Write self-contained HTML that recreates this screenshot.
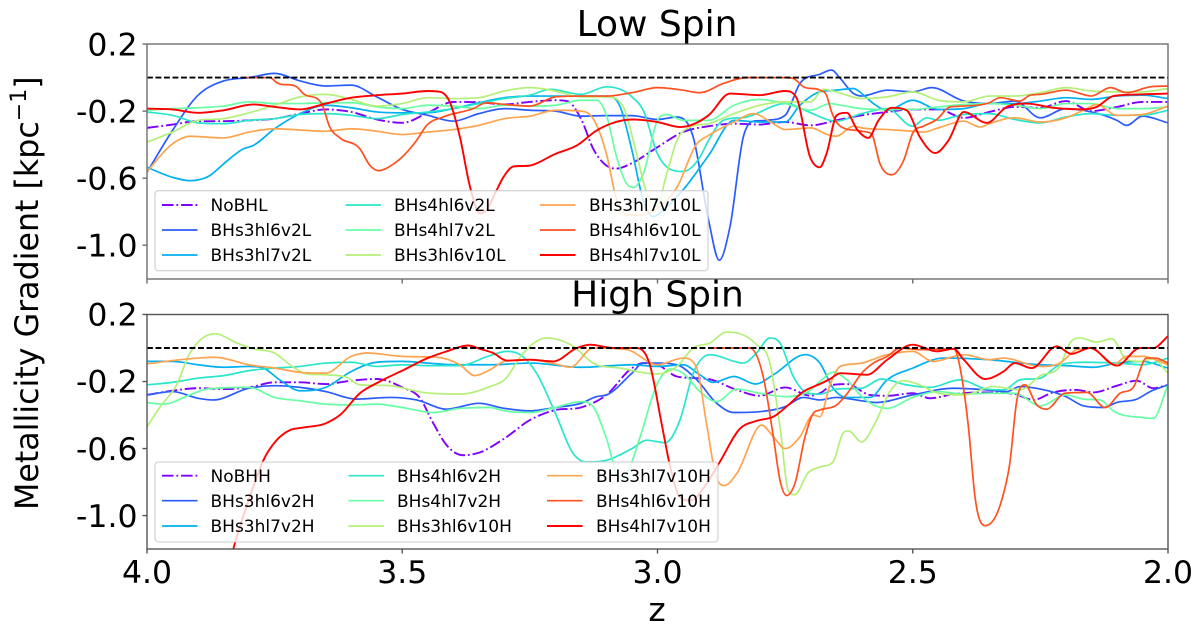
<!DOCTYPE html>
<html lang="en">
<head>
<meta charset="utf-8">
<title>Metallicity Gradient vs Redshift</title>
<style>
html,body{margin:0;padding:0;background:#fff;}
svg{display:block;}
text{font-family:"DejaVu Sans","Liberation Sans",sans-serif;fill:#000;}
</style>
</head>
<body>
<svg id="figure" xmlns="http://www.w3.org/2000/svg" width="1200" height="638" viewBox="0 0 1200 638">
  <defs>
    <clipPath id="clip-low"><rect x="147" y="44" width="1021" height="235"/></clipPath>
    <clipPath id="clip-high"><rect x="147" y="314.5" width="1021" height="234.5"/></clipPath>
  </defs>
  <rect x="0" y="0" width="1200" height="638" fill="#fff"/>
  <g id="panel-low"></g>
  <g id="panel-high"></g>
  <text x="657" y="36" font-size="36" text-anchor="middle">Low Spin</text>
  <text x="657.5" y="306.5" font-size="36" text-anchor="middle">High Spin</text>
  <text x="657" y="621" font-size="33" text-anchor="middle">z</text>
  <text transform="translate(38,510) rotate(-90)" font-size="31.7" x="0" y="0">Metallicity Gradient [kpc<tspan dy="-12" font-size="22">−1</tspan><tspan dy="12">]</tspan></text>
</svg>
<script>
// ---------- axis ticks ----------
const xTicks = [4.0, 3.5, 3.0, 2.5, 2.0];
const xTickLabels = ["4.0", "3.5", "3.0", "2.5", "2.0"];
const yTicks = [0.2, -0.2, -0.6, -1.0];
const yTickLabels = ["0.2", "-0.2", "-0.6", "-1.0"];
const zeroLevel = [0];

// ---------- Low Spin series ----------
const lowNames = ["NoBHL", "BHs3hl6v2L", "BHs3hl7v2L", "BHs4hl6v2L", "BHs4hl7v2L", "BHs3hl6v10L", "BHs3hl7v10L", "BHs4hl6v10L", "BHs4hl7v10L"];

const zLowNoBH = [4.00,3.95,3.90,3.85,3.80,3.75,3.70,3.65,3.60,3.55,3.50,3.45,3.40,3.35,3.30,3.25,3.20,3.177,3.15,3.125,3.10,3.08,3.05,3.00,2.95,2.90,2.85,2.80,2.75,2.70,2.65,2.60,2.55,2.50,2.45,2.40,2.35,2.30,2.25,2.20,2.15,2.10,2.05,2.00];
const vLowNoBH = [-0.30,-0.28,-0.26,-0.26,-0.255,-0.245,-0.215,-0.19,-0.205,-0.25,-0.27,-0.21,-0.145,-0.147,-0.16,-0.145,-0.135,-0.14,-0.245,-0.43,-0.525,-0.543,-0.51,-0.415,-0.325,-0.29,-0.275,-0.28,-0.265,-0.285,-0.255,-0.225,-0.205,-0.19,-0.19,-0.24,-0.205,-0.175,-0.18,-0.14,-0.20,-0.175,-0.145,-0.145];

const zLow3l6v2 = [4.00,3.95,3.90,3.85,3.80,3.75,3.70,3.65,3.60,3.55,3.50,3.45,3.40,3.35,3.30,3.25,3.20,3.15,3.10,3.05,3.00,2.962,2.93,2.90,2.879,2.858,2.832,2.812,2.786,2.75,2.721,2.682,2.659,2.642,2.616,2.60,2.55,2.50,2.463,2.40,2.35,2.30,2.25,2.20,2.15,2.10,2.081,2.05,2.00];
const vLow3l6v2 = [-0.565,-0.315,-0.105,-0.02,0,0.025,-0.02,-0.05,-0.045,-0.115,-0.19,-0.225,-0.26,-0.215,-0.185,-0.195,-0.2,-0.23,-0.227,-0.227,-0.25,-0.235,-0.355,-0.85,-1.09,-0.89,-0.355,-0.26,-0.255,-0.225,-0.035,0.02,0.045,-0.005,-0.095,-0.11,-0.075,-0.085,-0.06,-0.14,-0.155,-0.14,-0.24,-0.185,-0.205,-0.255,-0.285,-0.23,-0.27];

const zLow3l7v2 = [4.00,3.95,3.916,3.877,3.85,3.811,3.792,3.75,3.70,3.65,3.60,3.55,3.50,3.45,3.40,3.35,3.30,3.25,3.20,3.15,3.10,3.073,3.05,3.028,3.008,2.989,2.95,2.90,2.85,2.80,2.75,2.721,2.682,2.65,2.616,2.60,2.577,2.55,2.50,2.45,2.40,2.35,2.30,2.25,2.20,2.15,2.10,2.05,2.00];
const vLow3l7v2 = [-0.535,-0.595,-0.615,-0.585,-0.515,-0.425,-0.405,-0.305,-0.215,-0.165,-0.18,-0.205,-0.21,-0.21,-0.185,-0.15,-0.12,-0.11,-0.11,-0.11,-0.11,-0.175,-0.435,-0.73,-0.83,-0.79,-0.67,-0.465,-0.255,-0.265,-0.265,-0.165,-0.085,-0.075,-0.065,-0.095,-0.155,-0.195,-0.135,-0.19,-0.185,-0.155,-0.155,-0.14,-0.12,-0.13,-0.11,-0.105,-0.125];

const zLow4l6v2 = [4.00,3.95,3.90,3.85,3.80,3.75,3.70,3.65,3.60,3.55,3.50,3.45,3.40,3.35,3.30,3.25,3.21,3.15,3.10,3.05,3.028,3.00,2.95,2.917,2.90,2.871,2.825,2.75,2.70,2.662,2.65,2.60,2.55,2.50,2.473,2.45,2.40,2.35,2.30,2.25,2.20,2.15,2.10,2.05,2.00];
const vLow4l6v2 = [-0.205,-0.225,-0.27,-0.275,-0.255,-0.245,-0.22,-0.215,-0.225,-0.245,-0.22,-0.205,-0.185,-0.155,-0.125,-0.105,-0.07,-0.10,-0.055,-0.115,-0.195,-0.455,-0.56,-0.475,-0.375,-0.255,-0.235,-0.155,-0.21,-0.255,-0.26,-0.215,-0.185,-0.29,-0.24,-0.255,-0.22,-0.215,-0.25,-0.27,-0.235,-0.215,-0.225,-0.225,-0.195];

const zLow4l7v2 = [4.00,3.95,3.90,3.85,3.80,3.75,3.70,3.65,3.60,3.55,3.50,3.45,3.40,3.35,3.30,3.25,3.20,3.15,3.119,3.10,3.08,3.06,3.047,3.028,3.00,2.982,2.95,2.90,2.85,2.80,2.75,2.70,2.662,2.65,2.60,2.55,2.50,2.45,2.40,2.35,2.30,2.25,2.20,2.15,2.10,2.05,2.00];
const vLow4l7v2 = [-0.195,-0.185,-0.18,-0.17,-0.145,-0.155,-0.155,-0.15,-0.15,-0.175,-0.185,-0.165,-0.17,-0.185,-0.165,-0.17,-0.165,-0.135,-0.135,-0.225,-0.475,-0.635,-0.655,-0.575,-0.255,-0.22,-0.255,-0.255,-0.165,-0.13,-0.155,-0.195,-0.155,-0.16,-0.185,-0.19,-0.19,-0.175,-0.16,-0.155,-0.165,-0.185,-0.155,-0.155,-0.185,-0.185,-0.175];

const zLow3l6v10 = [4.00,3.95,3.90,3.85,3.80,3.75,3.70,3.65,3.60,3.55,3.50,3.45,3.40,3.35,3.30,3.25,3.20,3.15,3.10,3.067,3.041,3.021,3.002,2.982,2.962,2.936,2.90,2.85,2.80,2.75,2.70,2.675,2.65,2.60,2.55,2.50,2.45,2.40,2.35,2.30,2.25,2.20,2.15,2.10,2.05,2.00];
const vLow3l6v10 = [-0.385,-0.325,-0.255,-0.245,-0.21,-0.165,-0.115,-0.10,-0.13,-0.17,-0.155,-0.12,-0.125,-0.12,-0.08,-0.06,-0.08,-0.115,-0.115,-0.175,-0.455,-0.69,-0.77,-0.575,-0.375,-0.295,-0.275,-0.215,-0.165,-0.145,-0.145,-0.07,-0.085,-0.125,-0.115,-0.085,-0.135,-0.145,-0.11,-0.11,-0.09,-0.06,-0.08,-0.085,-0.085,-0.065];

const zLow3l7v10 = [4.00,3.95,3.916,3.85,3.80,3.75,3.65,3.60,3.55,3.50,3.45,3.40,3.35,3.30,3.25,3.20,3.15,3.126,3.10,3.08,3.06,3.041,3.00,2.962,2.923,2.90,2.85,2.812,2.773,2.75,2.70,2.662,2.65,2.616,2.60,2.55,2.50,2.479,2.45,2.40,2.368,2.35,2.30,2.25,2.20,2.159,2.14,2.10,2.05,2.00];
const vLow3l7v10 = [-0.56,-0.395,-0.35,-0.36,-0.325,-0.305,-0.32,-0.305,-0.32,-0.34,-0.325,-0.31,-0.285,-0.245,-0.23,-0.195,-0.20,-0.245,-0.455,-0.73,-0.82,-0.82,-0.78,-0.655,-0.395,-0.345,-0.265,-0.215,-0.275,-0.31,-0.30,-0.345,-0.35,-0.29,-0.30,-0.31,-0.32,-0.325,-0.30,-0.26,-0.295,-0.275,-0.24,-0.265,-0.24,-0.185,-0.16,-0.225,-0.22,-0.17];

const zLow4l6v10 = [3.805,3.759,3.746,3.707,3.694,3.658,3.642,3.622,3.583,3.563,3.547,3.517,3.472,3.452,3.42,3.361,3.335,3.30,3.25,3.20,3.15,3.10,3.05,3.00,2.95,2.917,2.871,2.825,2.75,2.734,2.714,2.682,2.669,2.659,2.642,2.60,2.581,2.564,2.541,2.518,2.499,2.479,2.453,2.427,2.40,2.35,2.329,2.29,2.27,2.25,2.20,2.15,2.113,2.081,2.035,2.00];
const vLow4l6v10 = [0,0,-0.03,-0.055,-0.095,-0.155,-0.295,-0.36,-0.425,-0.525,-0.555,-0.515,-0.375,-0.285,-0.235,-0.185,-0.15,-0.16,-0.17,-0.115,-0.11,-0.11,-0.09,-0.06,-0.075,-0.09,-0.035,0,0,-0.005,-0.055,-0.075,-0.105,-0.205,-0.29,-0.32,-0.335,-0.515,-0.58,-0.495,-0.325,-0.29,-0.25,-0.175,-0.17,-0.15,-0.12,-0.14,-0.105,-0.10,-0.075,-0.11,-0.06,-0.09,-0.055,-0.05];

const zLow4l7v10 = [4.00,3.95,3.90,3.85,3.792,3.75,3.70,3.65,3.60,3.55,3.50,3.45,3.426,3.407,3.387,3.367,3.348,3.335,3.318,3.302,3.282,3.25,3.20,3.158,3.119,3.087,3.05,3.00,2.956,2.90,2.858,2.80,2.75,2.727,2.701,2.682,2.669,2.649,2.629,2.61,2.587,2.567,2.541,2.512,2.486,2.456,2.43,2.40,2.355,2.316,2.277,2.225,2.166,2.14,2.107,2.05,2.00];
const vLow4l7v10 = [-0.185,-0.19,-0.21,-0.195,-0.16,-0.175,-0.19,-0.155,-0.12,-0.105,-0.095,-0.08,-0.085,-0.145,-0.355,-0.655,-0.81,-0.79,-0.69,-0.595,-0.53,-0.525,-0.455,-0.405,-0.315,-0.27,-0.25,-0.265,-0.295,-0.225,-0.095,-0.105,-0.08,-0.125,-0.475,-0.535,-0.455,-0.225,-0.21,-0.305,-0.36,-0.255,-0.18,-0.195,-0.355,-0.45,-0.375,-0.205,-0.27,-0.175,-0.155,-0.18,-0.19,-0.175,-0.11,-0.10,-0.095];

// ---------- High Spin series ----------
const highNames = ["NoBHH", "BHs3hl6v2H", "BHs3hl7v2H", "BHs4hl6v2H", "BHs4hl7v2H", "BHs3hl6v10H", "BHs3hl7v10H", "BHs4hl6v10H", "BHs4hl7v10H"];

const zHighNoBH = [4.00,3.95,3.90,3.85,3.80,3.75,3.70,3.65,3.60,3.55,3.50,3.465,3.439,3.413,3.38,3.35,3.30,3.25,3.20,3.15,3.10,3.05,3.028,3.00,2.962,2.923,2.90,2.845,2.80,2.75,2.70,2.682,2.656,2.629,2.584,2.55,2.50,2.466,2.42,2.355,2.30,2.264,2.225,2.179,2.146,2.10,2.061,2.029,2.00];
const vHighNoBH = [-0.28,-0.255,-0.24,-0.245,-0.235,-0.205,-0.205,-0.215,-0.195,-0.185,-0.235,-0.30,-0.45,-0.58,-0.64,-0.625,-0.54,-0.43,-0.37,-0.355,-0.28,-0.12,-0.09,-0.10,-0.17,-0.18,-0.185,-0.25,-0.285,-0.235,-0.285,-0.27,-0.22,-0.215,-0.28,-0.285,-0.27,-0.30,-0.275,-0.265,-0.275,-0.31,-0.265,-0.25,-0.265,-0.225,-0.195,-0.24,-0.22];

const zHigh3l6v2 = [4.00,3.95,3.90,3.87,3.80,3.75,3.70,3.65,3.59,3.524,3.472,3.413,3.35,3.30,3.25,3.20,3.15,3.119,3.10,3.05,3.028,3.00,2.962,2.923,2.884,2.85,2.80,2.75,2.714,2.682,2.65,2.60,2.571,2.50,2.42,2.355,2.316,2.29,2.25,2.20,2.166,2.127,2.10,2.061,2.035,2.00];
const vHigh3l6v2 = [-0.28,-0.26,-0.30,-0.31,-0.24,-0.225,-0.235,-0.26,-0.305,-0.295,-0.31,-0.365,-0.33,-0.36,-0.375,-0.355,-0.33,-0.29,-0.28,-0.15,-0.09,-0.09,-0.10,-0.19,-0.33,-0.385,-0.38,-0.35,-0.295,-0.31,-0.295,-0.315,-0.325,-0.28,-0.24,-0.25,-0.26,-0.23,-0.245,-0.29,-0.345,-0.355,-0.325,-0.305,-0.26,-0.22];

const zHigh3l7v2 = [4.00,3.95,3.90,3.85,3.80,3.772,3.74,3.70,3.65,3.60,3.55,3.50,3.45,3.40,3.328,3.25,3.15,3.05,3.00,2.95,2.917,2.891,2.85,2.808,2.773,2.711,2.682,2.656,2.629,2.584,2.55,2.50,2.44,2.35,2.25,2.20,2.146,2.10,2.05,2.00];
const vHigh3l7v2 = [-0.08,-0.08,-0.10,-0.115,-0.11,-0.12,-0.19,-0.255,-0.235,-0.14,-0.085,-0.08,-0.09,-0.10,-0.10,-0.09,-0.115,-0.10,-0.11,-0.10,-0.16,-0.205,-0.17,-0.215,-0.16,-0.04,-0.09,-0.24,-0.295,-0.295,-0.19,-0.12,-0.06,-0.07,-0.10,-0.105,-0.115,-0.09,-0.08,-0.12];

const zHigh4l6v2 = [4.00,3.95,3.90,3.85,3.80,3.75,3.70,3.65,3.60,3.55,3.50,3.45,3.387,3.328,3.295,3.269,3.237,3.20,3.165,3.139,3.10,3.05,3.021,2.985,2.956,2.93,2.897,2.832,2.806,2.78,2.76,2.734,2.705,2.682,2.649,2.60,2.561,2.512,2.466,2.408,2.355,2.322,2.29,2.25,2.212,2.159,2.10,2.05,2.00];
const vHigh4l6v2 = [-0.22,-0.205,-0.18,-0.165,-0.135,-0.12,-0.11,-0.09,-0.085,-0.11,-0.10,-0.105,-0.105,-0.045,-0.02,-0.04,-0.15,-0.39,-0.63,-0.68,-0.67,-0.60,-0.55,-0.565,-0.43,-0.15,-0.04,-0.09,-0.03,0.06,0.03,-0.17,-0.27,-0.275,-0.245,-0.24,-0.185,-0.22,-0.235,-0.19,-0.245,-0.25,-0.19,-0.18,-0.10,-0.085,-0.09,-0.10,-0.06];

const zHigh4l7v2 = [4.00,3.968,3.916,3.883,3.80,3.75,3.70,3.65,3.60,3.55,3.50,3.439,3.387,3.328,3.30,3.25,3.20,3.15,3.126,3.10,3.073,3.057,3.034,3.00,2.975,2.95,2.917,2.884,2.845,2.80,2.75,2.70,2.682,2.656,2.629,2.60,2.55,2.50,2.45,2.40,2.35,2.30,2.25,2.20,2.166,2.133,2.107,2.05,2.029,2.00];
const vHigh4l7v2 = [-0.325,-0.335,-0.28,-0.245,-0.235,-0.295,-0.315,-0.335,-0.34,-0.335,-0.355,-0.385,-0.36,-0.355,-0.375,-0.385,-0.355,-0.32,-0.35,-0.54,-0.79,-0.73,-0.53,-0.21,-0.125,-0.15,-0.26,-0.32,-0.245,-0.27,-0.29,-0.25,-0.20,-0.145,-0.19,-0.29,-0.36,-0.295,-0.26,-0.275,-0.27,-0.27,-0.345,-0.28,-0.305,-0.31,-0.375,-0.415,-0.42,-0.22];

const zHigh3l6v10 = [4.00,3.974,3.942,3.916,3.90,3.867,3.824,3.792,3.75,3.72,3.687,3.65,3.609,3.583,3.524,3.459,3.387,3.328,3.30,3.263,3.217,3.165,3.126,3.073,3.002,2.962,2.93,2.897,2.865,2.806,2.78,2.76,2.744,2.731,2.705,2.682,2.656,2.636,2.626,2.60,2.574,2.545,2.519,2.486,2.45,2.40,2.342,2.29,2.25,2.212,2.192,2.172,2.14,2.11,2.081,2.055,2.029,2.00];
const vHigh3l6v10 = [-0.47,-0.35,-0.22,-0.03,0.035,0.085,0.03,-0.005,-0.03,-0.10,-0.155,-0.16,-0.175,-0.22,-0.225,-0.265,-0.275,-0.23,-0.19,-0.03,0.06,0.01,-0.09,-0.12,-0.155,-0.11,0,0.03,0.095,0.02,-0.09,-0.47,-0.85,-0.875,-0.745,-0.71,-0.68,-0.505,-0.495,-0.56,-0.45,-0.26,-0.195,-0.22,-0.27,-0.28,-0.23,-0.25,-0.165,-0.11,0.03,0.06,0.035,0.055,-0.07,-0.08,-0.065,-0.15];

const zHigh3l7v10 = [4.00,3.95,3.90,3.867,3.80,3.75,3.70,3.65,3.60,3.57,3.50,3.433,3.387,3.358,3.328,3.30,3.25,3.20,3.171,3.126,3.06,3.00,2.95,2.923,2.904,2.884,2.868,2.845,2.796,2.773,2.75,2.721,2.695,2.682,2.662,2.642,2.60,2.55,2.50,2.46,2.40,2.35,2.322,2.25,2.212,2.179,2.15,2.107,2.081,2.05,2.00];
const vHigh3l7v10 = [-0.095,-0.075,-0.06,-0.055,-0.10,-0.12,-0.145,-0.15,-0.05,-0.03,-0.05,-0.055,-0.10,-0.165,-0.13,-0.08,-0.07,-0.095,-0.115,0,-0.01,-0.10,-0.06,-0.12,-0.45,-0.78,-0.82,-0.75,-0.46,-0.53,-0.60,-0.53,-0.40,-0.41,-0.22,-0.11,-0.09,-0.04,-0.02,-0.08,-0.04,-0.07,-0.06,-0.11,-0.09,-0.01,0,-0.10,-0.05,-0.05,-0.10];

const zHigh4l6v10 = [2.897,2.819,2.793,2.773,2.76,2.747,2.731,2.711,2.695,2.682,2.649,2.623,2.60,2.577,2.55,2.525,2.486,2.42,2.401,2.391,2.378,2.358,2.326,2.31,2.296,2.28,2.257,2.238,2.202,2.159,2.123,2.094,2.068,2.042,2.025,2.00];
const vHigh4l6v10 = [0,0,-0.17,-0.53,-0.79,-0.88,-0.81,-0.53,-0.39,-0.37,-0.34,-0.25,-0.15,-0.09,-0.05,0,-0.01,-0.005,-0.23,-0.47,-0.89,-1.06,-0.91,-0.69,-0.31,-0.22,-0.34,-0.365,-0.27,-0.265,-0.355,-0.27,-0.235,-0.06,-0.06,-0.09];

const zHigh4l7v10 = [3.85,3.831,3.811,3.792,3.772,3.746,3.72,3.694,3.65,3.622,3.583,3.544,3.50,3.45,3.413,3.371,3.348,3.322,3.295,3.25,3.204,3.158,3.132,3.087,3.041,3.015,2.992,2.975,2.956,2.936,2.904,2.878,2.838,2.806,2.773,2.74,2.714,2.682,2.662,2.642,2.59,2.55,2.50,2.453,2.42,2.40,2.358,2.322,2.30,2.267,2.218,2.189,2.153,2.10,2.055,2.029,2.00];
const vHigh4l7v10 = [-1.45,-1.2,-1.0,-0.83,-0.67,-0.55,-0.49,-0.475,-0.45,-0.40,-0.27,-0.20,-0.135,-0.06,-0.02,0.015,-0.005,-0.03,-0.075,-0.07,-0.08,0,0.02,0,0,-0.10,-0.45,-0.71,-0.89,-0.91,-0.81,-0.68,-0.48,-0.435,-0.41,-0.33,-0.26,-0.215,-0.185,-0.15,-0.16,-0.07,0.02,-0.02,-0.005,-0.07,-0.185,-0.14,-0.09,-0.12,0.01,-0.035,0,-0.105,0,0,0.07];

const lowZ = [zLowNoBH, zLow3l6v2, zLow3l7v2, zLow4l6v2, zLow4l7v2, zLow3l6v10, zLow3l7v10, zLow4l6v10, zLow4l7v10];
const lowV = [vLowNoBH, vLow3l6v2, vLow3l7v2, vLow4l6v2, vLow4l7v2, vLow3l6v10, vLow3l7v10, vLow4l6v10, vLow4l7v10];
const highZ = [zHighNoBH, zHigh3l6v2, zHigh3l7v2, zHigh4l6v2, zHigh4l7v2, zHigh3l6v10, zHigh3l7v10, zHigh4l6v10, zHigh4l7v10];
const highV = [vHighNoBH, vHigh3l6v2, vHigh3l7v2, vHigh4l6v2, vHigh4l7v2, vHigh3l6v10, vHigh3l7v10, vHigh4l6v10, vHigh4l7v10];

// ---------- styling ----------
const seriesColors = ["#8000ff", "#2a5cfd", "#00b0f0", "#28e6cc", "#66ffa4", "#b4f078", "#ffa44e", "#ff5020", "#ff0000"];
const SVGNS = "http://www.w3.org/2000/svg";

function xScale(z) { return 147 + (4 - z) * 510.5; }
function yScaleLow(v) { return 77.6 - v * 167.6; }
function yScaleHigh(v) { return 348 - v * 167.6; }

function make(tag, attrs, parent) {
  const el = document.createElementNS(SVGNS, tag);
  for (const k in attrs) el.setAttribute(k, attrs[k]);
  parent.appendChild(el);
  return el;
}

function smoothPath(pts) {
  const n = pts.length;
  if (n < 2) return "";
  const d = [], m = [];
  for (let i = 0; i < n - 1; i++) {
    d.push((pts[i + 1][1] - pts[i][1]) / (pts[i + 1][0] - pts[i][0]));
  }
  m[0] = d[0];
  m[n - 1] = d[n - 2];
  for (let i = 1; i < n - 1; i++) {
    if (d[i - 1] * d[i] <= 0) {
      m[i] = 0;
    } else {
      const h0 = pts[i][0] - pts[i - 1][0], h1 = pts[i + 1][0] - pts[i][0];
      const c = (h1 * d[i - 1] + h0 * d[i]) / (h0 + h1);
      const lim = 3 * Math.min(Math.abs(d[i - 1]), Math.abs(d[i]));
      m[i] = Math.sign(c) * Math.min(Math.abs(c), lim);
    }
  }
  let p = "M" + pts[0][0].toFixed(2) + " " + pts[0][1].toFixed(2);
  for (let i = 0; i < n - 1; i++) {
    const h = (pts[i + 1][0] - pts[i][0]) / 3;
    p += "C" + (pts[i][0] + h).toFixed(2) + " " + (pts[i][1] + m[i] * h).toFixed(2) + " " +
      (pts[i + 1][0] - h).toFixed(2) + " " + (pts[i + 1][1] - m[i + 1] * h).toFixed(2) + " " +
      pts[i + 1][0].toFixed(2) + " " + pts[i + 1][1].toFixed(2);
  }
  return p;
}

function drawPanel(panelId, clipId, yScale, zs, vs, names, top, bottom, spineColor, legend, xLabels) {
  const panel = document.getElementById(panelId);
  const clipped = make("g", { "clip-path": "url(#" + clipId + ")" }, panel);
  
  

  names.forEach(function (name, i) {
    const pts = [];
    const count = Math.min(zs[i].length, vs[i].length);
    for (let j = 0; j < count; j++) pts.push([xScale(zs[i][j]), yScale(vs[i][j])]);
    const line = make("path", {
      d: smoothPath(pts), fill: "none", stroke: seriesColors[i],
      "stroke-width": i === 0 || i === 8 ? 1.9 : 1.7,
      "stroke-linejoin": "round",
      "stroke-dasharray": i === 0 ? "11.5 2.9 1.8 2.9" : "none"
    }, clipped);
    
    
  });

  zeroLevel.forEach(function (lv) {
    const zero = make("line", {
      x1: xScale(xTicks[0]), x2: xScale(xTicks[xTicks.length - 1]),
      y1: yScale(lv), y2: yScale(lv), stroke: "#000", "stroke-width": 1.9,
      "stroke-dasharray": "5.9 2.6"
    }, clipped);
    
    
  });

  const frame = make("rect", {
    x: xScale(xTicks[0]), y: top, width: xScale(xTicks[xTicks.length - 1]) - xScale(xTicks[0]),
    height: bottom - top, fill: "none", stroke: spineColor, "stroke-width": 1.4
  }, panel);
  
  

  yTicks.forEach(function (t, i) {
    const y = yScale(t);
    const tick = make("line", { x1: 142.5, x2: 147, y1: y, y2: y, stroke: spineColor, "stroke-width": 1.4 }, panel);
    
    
    const label = make("text", { x: 137.5, y: y + 11.2, "font-size": 31.5, "text-anchor": "end" }, panel);
    label.textContent = yTickLabels[i];
    
    
  });

  xTicks.forEach(function (t, i) {
    const x = xScale(t);
    const tick = make("line", { x1: x, x2: x, y1: bottom, y2: bottom + 4.5, stroke: spineColor, "stroke-width": 1.4 }, panel);
    
    
    if (xLabels) {
      const label = make("text", { x: x, y: 583, "font-size": 31.5, "text-anchor": "middle" }, panel);
      label.textContent = xTickLabels[i];
      
      
    }
  });

  const lg = make("g", {}, panel);
  
  
  const box = make("rect", {
    x: legend.x, y: legend.y, width: legend.w, height: legend.h, rx: 3.5, ry: 3.5,
    fill: "#fff", "fill-opacity": 0.8, stroke: "#ccc", "stroke-opacity": 0.8, "stroke-width": 1.3
  }, lg);
  
  
  names.forEach(function (name, i) {
    const col = Math.floor(i / 3), row = i % 3;
    const cy = legend.rows[row];
    const entry = make("g", {}, lg);
    
    
    make("line", {
      x1: legend.handle[col], x2: legend.handle[col] + 35.5, y1: cy, y2: cy,
      stroke: seriesColors[i], "stroke-width": i === 0 || i === 8 ? 1.9 : 1.7,
      "stroke-dasharray": i === 0 ? "11.5 2.9 1.8 2.9" : "none"
    }, entry);
    const txt = make("text", { x: legend.text[col], y: cy + 6.2, "font-size": 17 }, entry);
    txt.textContent = name;
  });
}

drawPanel("panel-low", "clip-low", yScaleLow, lowZ, lowV, lowNames, 44, 279, "#6e6e6e", {
  x: 155, y: 190.7, w: 553, h: 80,
  rows: [205, 230, 255], handle: [162, 345.5, 540], text: [210.5, 394, 589]
}, false);

drawPanel("panel-high", "clip-high", yScaleHigh, highZ, highV, highNames, 314.5, 549, "#555555", {
  x: 155, y: 462, w: 563, h: 80,
  rows: [475.7, 500.7, 526], handle: [162, 348.5, 547], text: [210.5, 397, 596]
}, true);
</script>
</body>
</html>
